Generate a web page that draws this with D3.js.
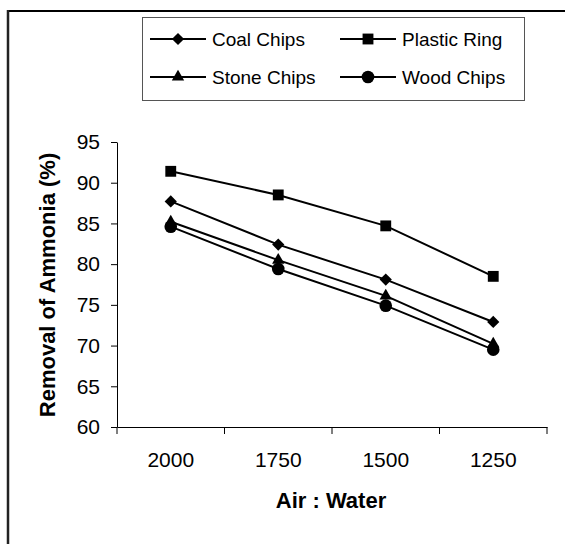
<!DOCTYPE html>
<html><head><meta charset="utf-8">
<script src="https://cdn.jsdelivr.net/npm/d3@7"></script>
<style>html,body{margin:0;background:#fff;overflow:hidden}svg{display:block;font-family:"Liberation Sans",Arial,sans-serif}</style>
</head><body>
<svg id="c" width="565" height="544"></svg>
<script>
const categories = ["2000","1750","1500","1250"];
const coalChips = [87.7, 82.4, 78.1, 72.9];
const plasticRing = [91.4, 88.5, 84.7, 78.5];
const stoneChips = [85.2, 80.5, 76.1, 70.2];
const woodChips = [84.6, 79.4, 74.9, 69.5];
const yTicks = [60,65,70,75,80,85,90,95];
const seriesNames = ["Coal Chips","Plastic Ring","Stone Chips","Wood Chips"];
const seriesValues = [coalChips, plasticRing, stoneChips, woodChips];
const symbols = [d3.symbolDiamond2, d3.symbolSquare2, d3.symbolTriangle2, d3.symbolCircle];
const symSizes = [95, 150, 110, 125];

const svg = d3.select("#c");
// outer frame (only top/left visible)
svg.append("line").attr("x1",8).attr("x2",565).attr("y1",11).attr("y2",11).attr("stroke","#000").attr("stroke-width",2);
svg.append("line").attr("x1",8).attr("x2",8).attr("y1",10).attr("y2",544).attr("stroke","#222").attr("stroke-width",2.5);

const L = 117, R = 547, T = 142, B = 427;
const x = d3.scaleBand().domain(categories).range([L,R]);
const y = d3.scaleLinear().domain([60,95]).range([B,T]);

// y axis
const ya = svg.append("g").attr("transform",`translate(${L},0)`)
  .call(d3.axisLeft(y).tickValues(yTicks).tickSize(6).tickSizeOuter(0).tickPadding(11));
ya.select(".domain").attr("stroke","#000");
ya.selectAll(".tick text").attr("font-size",21).attr("font-family","Liberation Sans, Arial").attr("fill","#000");

// x axis
const xa = svg.append("g").attr("transform",`translate(0,${B})`)
  .call(d3.axisBottom(x).tickSize(0).tickPadding(25));
xa.select(".domain").attr("stroke","#000");
xa.selectAll(".tick text").attr("font-size",21).attr("font-family","Liberation Sans, Arial").attr("fill","#000");
// band boundary ticks
const bounds = categories.map(c => x(c)).concat([R]);
xa.selectAll(".bt").data(bounds).join("line").attr("class","bt")
  .attr("x1",d=>d).attr("x2",d=>d).attr("y1",0).attr("y2",7).attr("stroke","#000");

// titles
svg.append("text").attr("x",331).attr("y",508).attr("text-anchor","middle")
  .attr("font-size",22).attr("font-weight","bold").text("Air : Water");
svg.append("text").attr("transform","translate(55,285) rotate(-90)").attr("text-anchor","middle")
  .attr("font-size",22).attr("font-weight","bold").text("Removal of Ammonia (%)");

// series
const line = d3.line().x((d,i)=>x(categories[i])+x.bandwidth()/2).y(d=>y(d));
seriesValues.forEach((vals,k)=>{
  svg.append("path").datum(vals).attr("d",line).attr("fill","none").attr("stroke","#000").attr("stroke-width",2);
  svg.selectAll(".m"+k).data(vals).join("path").attr("class","m"+k)
    .attr("transform",(d,i)=>`translate(${x(categories[i])+x.bandwidth()/2},${y(d)})`)
    .attr("d",d3.symbol(symbols[k],symSizes[k])).attr("fill","#000");
});

// legend
svg.append("rect").attr("x",142.5).attr("y",17.5).attr("width",382).attr("height",83)
  .attr("fill","#fff").attr("stroke","#555").attr("stroke-width",1);
const legPos = [[150,39],[340,39],[150,77],[340,77]];
seriesNames.forEach((n,k)=>{
  const [lx,ly] = legPos[k];
  const g = svg.append("g").attr("transform",`translate(${lx},${ly})`);
  g.append("line").attr("x1",0).attr("x2",56).attr("y1",0).attr("y2",0).attr("stroke","#000").attr("stroke-width",2);
  g.append("path").attr("transform","translate(28,0)").attr("d",d3.symbol(symbols[k],symSizes[k])).attr("fill","#000");
  g.append("text").attr("x",62).attr("y",7).attr("font-size",19).text(n);
});
</script>
</body></html>
